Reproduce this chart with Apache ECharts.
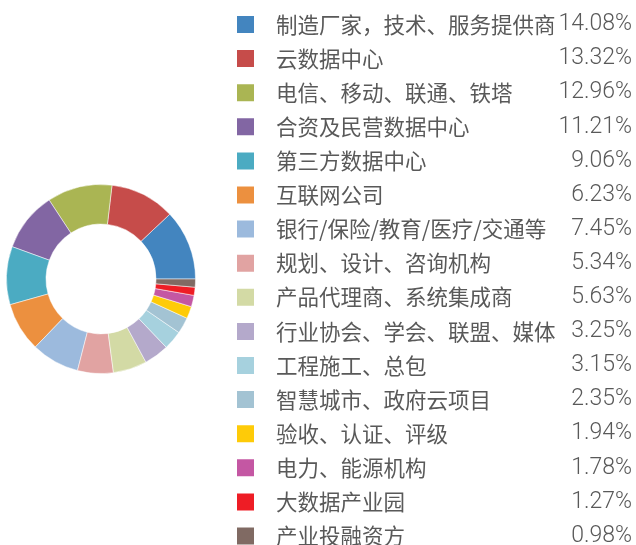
<!DOCTYPE html>
<html>
<head>
<meta charset="utf-8">
<script src="https://cdn.jsdelivr.net/npm/echarts@6/dist/echarts.min.js"></script>
<style>html,body{margin:0;padding:0;background:#fff;}#c{width:636px;height:545px;}</style>
</head>
<body>
<div id="c"></div>
<script>
// Categories (legend order)
var categories = [
  '制造厂家，技术、服务提供商', '云数据中心', '电信、移动、联通、铁塔', '合资及民营数据中心',
  '第三方数据中心', '互联网公司', '银行/保险/教育/医疗/交通等', '规划、设计、咨询机构',
  '产品代理商、系统集成商', '行业协会、学会、联盟、媒体', '工程施工、总包', '智慧城市、政府云项目',
  '验收、认证、评级', '电力、能源机构', '大数据产业园', '产业投融资方'
];
// Percent labels shown in the legend
var legendPercents = ['14.08%', '13.32%', '12.96%', '11.21%', '9.06%', '6.23%', '7.45%', '5.34%',
  '5.63%', '3.25%', '3.15%', '2.35%', '1.94%', '1.78%', '1.27%', '0.98%'];
// Slice sizes as drawn in the donut (estimated angular shares, degrees)
var sliceValues = [43.3, 40, 40, 36.7, 35.8, 30.2, 29.6, 22, 20.8, 15.3, 11.8, 10, 7.5, 7, 5, 5];
var colors = ['#4385BF', '#C64C4A', '#AAB553', '#8266A3', '#4BABC2', '#EC903F', '#9CBADD', '#E1A3A2',
  '#D3DAA5', '#B4A9CB', '#A6D1DE', '#A3C3D3', '#FECB08', '#C457A3', '#EE1D25', '#806A63'];

var chart = echarts.init(document.getElementById('c'));
var data = categories.map(function (n, i) { return { name: n, value: sliceValues[i] }; });
chart.setOption({
  animation: false,
  color: colors,
  legend: {
    orient: 'vertical',
    left: 230,
    top: 0,
    height: 600,
    padding: [13, 5, 0, 5],
    itemWidth: 19,
    itemHeight: 19,
    itemGap: 11.1,
    icon: 'rect',
    selectedMode: false,
    data: categories,
    formatter: function (name) {
      var i = categories.indexOf(name);
      return '{n|' + name + '}{p|' + legendPercents[i] + '}';
    },
    textStyle: {
      padding: [0, 0, 0, 16],
      lineHeight: 19,
      rich: {
        n: { fontFamily: 'Noto Sans CJK SC', fontSize: 21.5, color: '#595959', width: 278, lineHeight: 19, height: 19 },
        p: { fontFamily: 'Roboto', fontWeight: 300, fontSize: 23, color: '#595959', width: 78, align: 'right', lineHeight: 19, height: 19 }
      }
    }
  },
  series: [{
    type: 'pie',
    center: [101, 279],
    radius: [55, 94.5],
    startAngle: 0,
    clockwise: false,
    label: { show: false },
    labelLine: { show: false },
    itemStyle: { borderColor: '#fff', borderWidth: 0.5 },
    emphasis: { disabled: true },
    data: data
  }]
});
</script>
</body>
</html>
